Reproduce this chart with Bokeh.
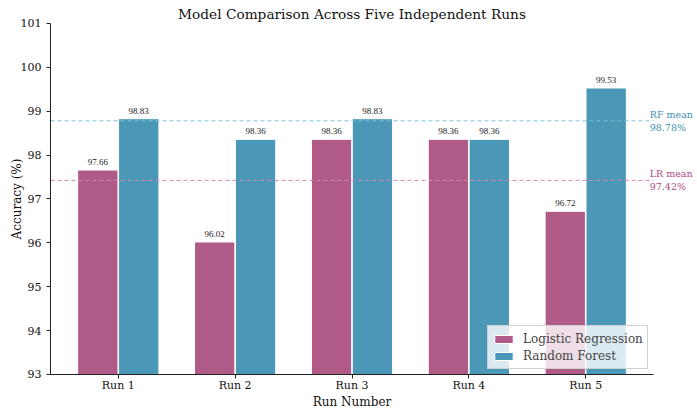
import numpy as np
from bokeh.plotting import figure
from bokeh.models import ColumnDataSource, Label, FixedTicker, LabelSet, Range1d
from bokeh.embed import file_html
from bokeh.resources import INLINE

run_labels = ["Run 1", "Run 2", "Run 3", "Run 4", "Run 5"]
lr_acc = [97.66, 96.02, 98.36, 98.36, 96.72]
rf_acc = [98.83, 98.36, 98.83, 98.36, 99.53]

LR_COLOR = "#B05A87"
RF_COLOR = "#4A97B8"
SERIF = "DejaVu Serif"

X_LO, X_HI = -0.58, 4.58
Y_LO, Y_HI = 93, 101
pos = np.arange(len(run_labels))
off = 0.175
bw = 0.345

lr_src = ColumnDataSource(dict(x=pos - off, top=lr_acc, lab=[f"{v:.2f}" for v in lr_acc]))
rf_src = ColumnDataSource(dict(x=pos + off, top=rf_acc, lab=[f"{v:.2f}" for v in rf_acc]))

p = figure(width=697, height=414, output_backend="svg", toolbar_location=None,
           x_range=Range1d(-1.0079, 4.9565), y_range=Range1d(92.0883, 101.5242),
           min_border_left=0, min_border_top=0, min_border_right=0, min_border_bottom=0)
p.outline_line_color = None
p.grid.visible = False
p.background_fill_color = "white"

p.vbar(x="x", top="top", bottom=Y_LO, width=bw, source=lr_src, fill_color=LR_COLOR,
       line_color="white", line_width=1, legend_label="Logistic Regression")
p.vbar(x="x", top="top", bottom=Y_LO, width=bw, source=rf_src, fill_color=RF_COLOR,
       line_color="white", line_width=1, legend_label="Random Forest")

for src in (lr_src, rf_src):
    p.add_layout(LabelSet(x="x", y="top", text="lab", source=src, text_align="center",
                          text_baseline="bottom", y_offset=5, text_font=SERIF,
                          text_font_size="9px", text_color="#222222"))

lr_mean = float(np.mean(lr_acc))
rf_mean = float(np.mean(rf_acc))
p.segment(x0=[X_LO], x1=[X_HI], y0=[rf_mean], y1=[rf_mean], line_color="#7DC4D9",
          line_dash="4 3", line_width=1)
p.segment(x0=[X_LO], x1=[X_HI], y0=[lr_mean], y1=[lr_mean], line_color="#DA86AE",
          line_dash="4 3", line_width=1)
p.add_layout(Label(x=4.548, y=rf_mean, text=f"RF mean\n{rf_mean:.2f}%", text_align="left",
                   text_baseline="middle", text_font=SERIF, text_font_size="9.5px",
                   text_color="#3F8FB3", text_line_height=1.2))
p.add_layout(Label(x=4.548, y=lr_mean, text=f"LR mean\n{lr_mean:.2f}%", text_align="left",
                   text_baseline="middle", text_font=SERIF, text_font_size="9.5px",
                   text_color="#A94A7D", text_line_height=1.2))

p.add_layout(Label(x=2, y=Y_HI, y_offset=9, text="Model Comparison Across Five Independent Runs",
                   text_align="center", text_baseline="middle", text_font=SERIF,
                   text_font_size="13.7px", text_color="#111111"))

p.xaxis.ticker = FixedTicker(ticks=list(pos))
p.xaxis.major_label_overrides = {int(i): l for i, l in zip(pos, run_labels)}
p.xaxis.bounds = (X_LO, X_HI)
p.xaxis.fixed_location = Y_LO
p.yaxis.ticker = FixedTicker(ticks=list(range(Y_LO, Y_HI + 1)))
p.yaxis.bounds = (Y_LO, Y_HI)
p.yaxis.fixed_location = X_LO
for ax in (p.xaxis, p.yaxis):
    ax.major_label_text_font = SERIF
    ax.major_label_text_font_size = "11px"
    ax.major_label_text_color = "#111111"
    ax.axis_label_text_font = SERIF
    ax.axis_label_text_font_size = "12px"
    ax.axis_label_text_font_style = "normal"
    ax.axis_label_text_color = "#111111"
    ax.minor_tick_line_color = None
    ax.major_tick_in = 0
    ax.major_tick_out = 4
    ax.axis_line_color = "#222222"
    ax.major_tick_line_color = "#222222"
p.xaxis.major_label_standoff = 1
p.yaxis.major_label_standoff = 5
p.xaxis.axis_label = "Run Number"
p.yaxis.axis_label = "Accuracy (%)"
p.xaxis.axis_label_standoff = -1
p.yaxis.axis_label_standoff = -6

p.legend.location = (487, 45)
p.legend.label_text_font = SERIF
p.legend.label_text_font_size = "12px"
p.legend.background_fill_alpha = 0.8
p.legend.border_line_color = "#cccccc"
p.legend.border_line_alpha = 0.9
p.legend.padding = 4
p.legend.spacing = 0
p.legend.label_height = 17
p.legend.label_standoff = 8
p.legend.glyph_width = 23
p.legend.glyph_height = 10

open("out.html", "w").write(file_html(p, INLINE))
